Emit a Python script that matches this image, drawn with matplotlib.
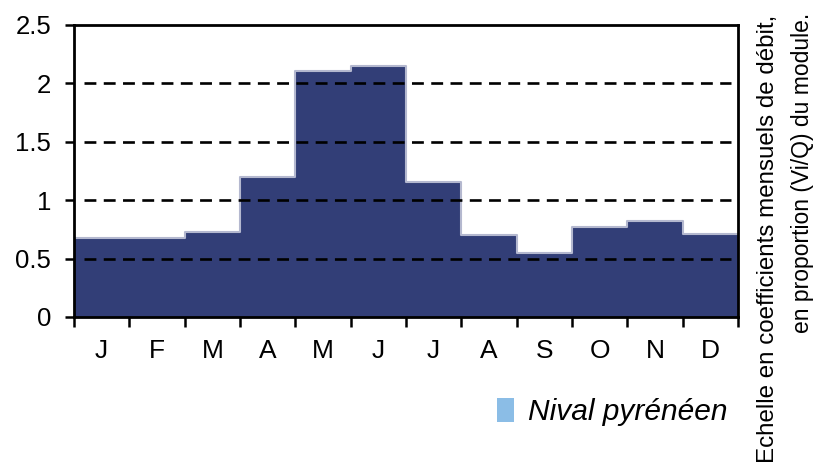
import numpy as np
import matplotlib
matplotlib.use("Agg")
import matplotlib.pyplot as plt
from matplotlib.patches import Patch

months = ["J", "F", "M", "A", "M", "J", "J", "A", "S", "O", "N", "D"]
coef = [0.68, 0.68, 0.73, 1.20, 2.11, 2.15, 1.16, 0.70, 0.55, 0.77, 0.82, 0.71]
yticks = [0, 0.5, 1, 1.5, 2, 2.5]
ytick_labels = ["0", "0.5", "1", "1.5", "2", "2.5"]
legend_label = "Nival pyrénéen"
side_lines = ["Echelle en coefficients mensuels de débit,",
              "en proportion (Vi/Q) du module."]

plt.rcParams['font.family'] = ['Liberation Sans', 'DejaVu Sans']

fig = plt.figure(figsize=(8.15, 4.72), dpi=100)
ax = fig.add_axes([74 / 815, 1 - 317 / 472, 664 / 815, 292 / 472])

edges = np.arange(len(coef) + 1)
vals = np.append(coef, coef[-1])
ax.fill_between(edges, vals, step="post", color="#323e77", lw=0, zorder=1)
ax.step(edges, vals, where="post", color="#b4b8cf", lw=1.5, zorder=1.5)

for y in yticks[1:-1]:
    ax.axhline(y, xmin=0.015, xmax=0.99, color="black", lw=1.9,
               linestyle=(0, (4.5, 2.8)), zorder=2)

ax.set_xlim(0, 12)
ax.set_ylim(0, 2.5)
ax.set_yticks(yticks)
ax.set_yticklabels(ytick_labels, fontsize=18.5)
ax.set_xticks(edges)
ax.set_xticklabels([])
ax.set_xticks(edges[:-1] + 0.5, minor=True)
ax.set_xticklabels(months, minor=True, fontsize=19)
ax.tick_params(axis="x", which="major", direction="out", length=7, width=1.8)
ax.tick_params(axis="x", which="minor", length=0, pad=16)
ax.tick_params(axis="y", direction="out", length=6.5, width=1.8, pad=10)
for s in ax.spines.values():
    s.set_linewidth(2)
    s.set_zorder(3)

handle = Patch(facecolor="#8bbde6", edgecolor="none")
fig.legend([handle], [legend_label], loc="center", bbox_to_anchor=(612 / 815, 1 - 412 / 472),
           frameon=False, handlelength=0.6, handleheight=0.9, handletextpad=0.45,
           prop={"style": "italic", "size": 21.5})

fig.text(768 / 815, 1 - 15 / 472, side_lines[0], rotation=90, ha="center", va="top", fontsize=17.4)
fig.text(803 / 815, 1 - 13 / 472, side_lines[1], rotation=90, ha="center", va="top", fontsize=16.5)

fig.savefig("out.png", dpi=100)
